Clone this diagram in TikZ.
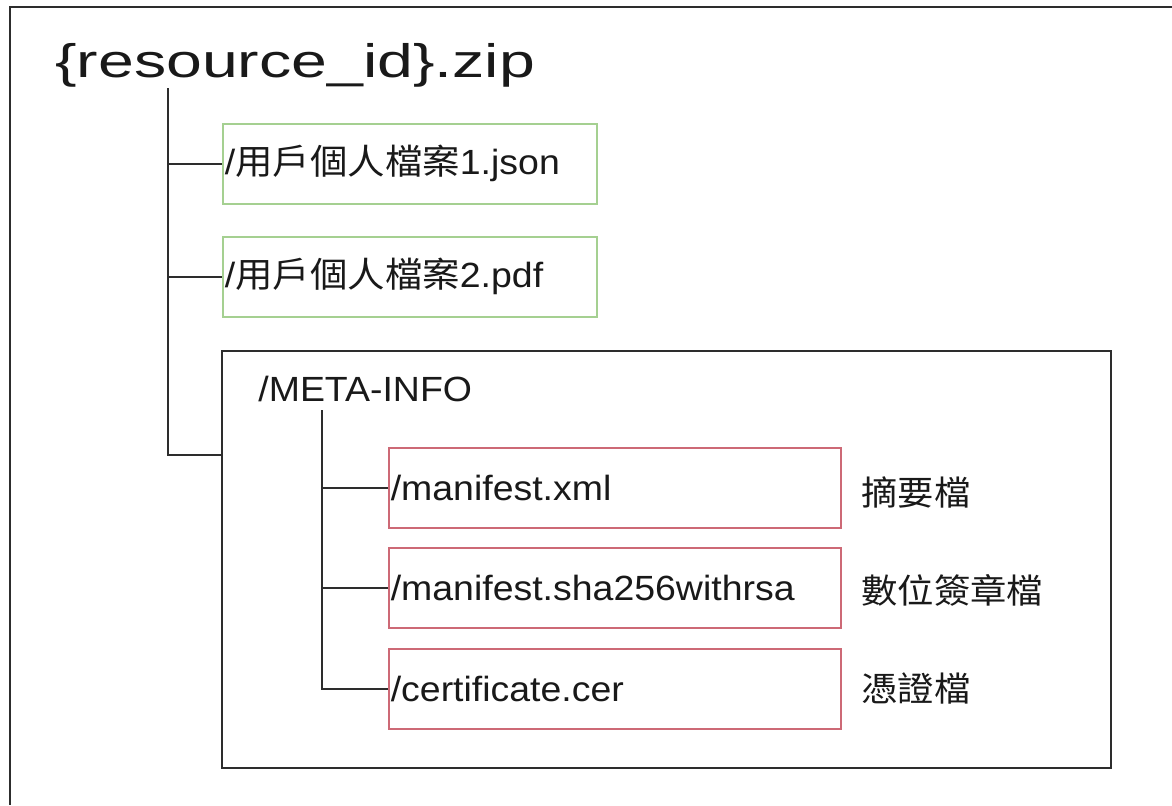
\documentclass[tikz,border=0pt]{standalone}
\usepackage{fontspec}
\usepackage{graphicx}
\setmainfont{Liberation Sans}
\newfontfamily\cjk{Noto Sans CJK TC}
\newcommand\wtxt[1]{\scalebox{1.07}[1]{#1}}
\newcommand\wtitle[1]{\scalebox{1.37}[1]{#1}}
\definecolor{lineC}{RGB}{45,45,45}
\definecolor{greenC}{RGB}{165,208,145}
\definecolor{redC}{RGB}{205,105,118}
\definecolor{txtC}{RGB}{25,25,25}
\tikzset{
  frame/.style={draw=lineC, line width=1pt},
  link/.style={draw=lineC, line width=1pt},
  boxtext/.style={font=\fontsize{17.5}{21}\selectfont, text=txtC},
  filebox/.style={boxtext, anchor=north west, text width=#1, align=left,
    inner xsep=1pt, inner ysep=0pt, minimum height=40pt},
  greenbox/.style={filebox=185pt, draw=greenC, line width=0.8pt},
  redbox/.style={filebox=224pt, draw=redC, line width=0.8pt},
  metabox/.style={draw=lineC, line width=1pt, anchor=north west,
    minimum width=444.5pt, minimum height=208.5pt, inner sep=0pt},
  note/.style={font=\fontsize{17}{21}\selectfont, text=txtC, anchor=west, inner sep=0pt},
}
\begin{document}
\begin{tikzpicture}[x=0.5pt,y=-0.5pt]
\useasboundingbox (0,0) rectangle (1172,805);
% outer frame (open to the right and bottom)
\draw[frame] (1172,7) -- (10,7) -- (10,805);
% title
\node[font=\fontsize{23.5}{28}\selectfont, text=txtC, anchor=base west, inner sep=0pt]
  (title) at (55,77) {\wtitle{\{resource\_id\}.zip}};
% top-level entries
\node[greenbox] (g1) at (222,123) {\wtxt{/{\cjk 用戶個人檔案}1.json}};
\node[greenbox] (g2) at (222,236) {\wtxt{/{\cjk 用戶個人檔案}2.pdf}};
\node[metabox] (meta) at (221,350) {};
\node[boxtext, anchor=base west, inner sep=0pt] (metalabel) at (258,401) {\wtxt{/META-INFO}};
% META-INFO entries
\node[redbox] (r1) at (388,447) {\wtxt{/manifest.xml}};
\node[redbox] (r2) at (388,547) {\wtxt{/manifest.sha256withrsa}};
\node[redbox] (r3) at (388,648) {\wtxt{/certificate.cer}};
% notes
\node[note] (n1) at (861,492) {\wtxt{\cjk 摘要檔}};
\node[note] (n2) at (861,590) {\wtxt{\cjk 數位簽章檔}};
\node[note] (n3) at (861,688) {\wtxt{\cjk 憑證檔}};
% connectors
\coordinate (t0) at (168,88);
\coordinate (mj) at (221,455);
\draw[link] (t0) |- (g1.west);
\draw[link] (t0) |- (g2.west);
\draw[link] (t0) |- (mj);
\coordinate (s0) at (322,410);
\draw[link] (s0) |- (r1.west);
\draw[link] (s0) |- (r2.west);
\draw[link] (s0) |- (r3.west);
\end{tikzpicture}
\end{document}
